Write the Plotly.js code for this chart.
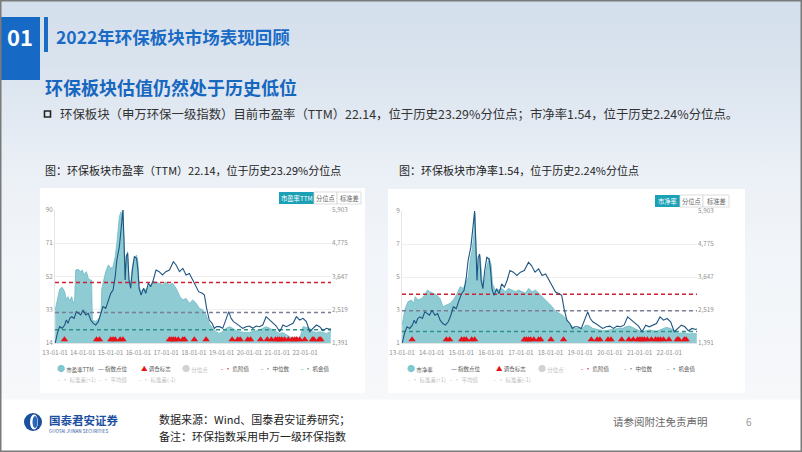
<!DOCTYPE html>
<html><head><meta charset="utf-8">
<script src="https://cdn.plot.ly/plotly-3.0.1.min.js"></script>
<style>
html,body{margin:0;padding:0;width:802px;height:452px;overflow:hidden;}
body{background:linear-gradient(180deg,#d3dfec 0px,#d9e3ee 60px,#e2e9f2 120px,#ebf0f6 170px,#f2f5f9 260px,#f6f8fa 399px,#ffffff 400px,#ffffff 452px);}
#chart{width:802px;height:452px;}
</style></head><body><div id="chart"></div>
<script>
// ---------------- DATA ----------------
const idxDates = ['2013-01-04','2013-02-01','2013-03-03','2013-04-06','2013-05-08','2013-05-30','2013-06-21','2013-07-13','2013-08-08','2013-09-09','2013-10-08','2013-11-03','2013-12-05','2014-01-05','2014-02-10','2014-03-15','2014-04-15','2014-05-18','2014-06-20','2014-07-24','2014-08-25','2014-09-24','2014-10-30','2014-12-03','2015-01-04','2015-02-03','2015-03-03','2015-03-25','2015-04-09','2015-04-27','2015-05-19','2015-06-13','2015-06-27','2015-07-12','2015-07-27','2015-08-14','2015-09-01','2015-09-23','2015-10-15','2015-11-10','2015-12-09','2015-12-27','2016-01-12','2016-02-06','2016-03-10','2016-04-08','2016-05-11','2016-06-13','2016-07-16','2016-08-21','2016-10-01','2016-11-14','2016-12-28','2017-02-13','2017-04-06','2017-05-12','2017-06-25','2017-08-08','2017-09-20','2017-11-02','2017-12-17','2018-01-30','2018-03-04','2018-04-19','2018-05-19','2018-06-17','2018-07-22','2018-08-28','2018-09-26','2018-10-27','2018-12-02','2019-01-15','2019-02-28','2019-04-04','2019-05-05','2019-06-05','2019-07-10','2019-08-22','2019-10-05','2019-11-18','2020-01-01','2020-02-14','2020-03-30','2020-05-11','2020-06-24','2020-08-07','2020-09-22','2020-11-03','2020-12-19','2021-02-01','2021-03-17','2021-04-30','2021-06-13','2021-07-27','2021-09-09','2021-10-22','2021-12-05','2022-01-18','2022-03-03','2022-04-16','2022-05-30','2022-07-12','2022-08-25','2022-10-08','2022-11-21','2022-12-05'];
const idxValues = [1391,1719,1945,1889,2002,2171,2058,2228,2284,2228,2454,2397,2341,2510,2341,2397,2171,2058,2002,2115,2341,2624,2567,2850,3076,3189,3641,4207,4433,4659,5224,5903,4885,3528,4320,4433,3528,3246,3867,4320,4263,3867,3246,3019,3246,3076,3415,3302,3528,3867,3811,3698,3811,3867,4150,4037,3811,3924,3698,3750,3528,3300,3132,3076,3019,2567,2171,2058,1889,1945,1945,1889,2171,2454,2228,2115,2058,1968,1889,1945,1968,1889,1968,1945,2002,2284,2171,2058,1968,1775,2002,1945,2002,2058,2284,2171,2228,2115,1775,1889,2002,1945,1809,1889,1855,1880];

const peDates = ['2013-01-04','2013-02-01','2013-03-03','2013-04-06','2013-05-08','2013-05-30','2013-06-21','2013-07-13','2013-08-08','2013-08-29','2013-09-16','2013-09-30','2013-11-03','2013-12-05','2013-12-27','2014-01-18','2014-02-17','2014-03-15','2014-04-09','2014-04-27','2014-05-07','2014-06-20','2014-08-03','2014-08-29','2014-09-08','2014-09-24','2014-10-30','2014-12-03','2015-01-04','2015-02-03','2015-03-03','2015-03-25','2015-04-09','2015-04-27','2015-05-19','2015-06-06','2015-06-13','2015-06-27','2015-07-12','2015-07-27','2015-08-14','2015-09-01','2015-09-23','2015-10-15','2015-11-10','2015-12-09','2015-12-27','2016-01-12','2016-02-06','2016-03-10','2016-04-08','2016-05-11','2016-06-13','2016-07-16','2016-08-21','2016-10-01','2016-11-14','2016-12-28','2017-02-13','2017-03-27','2017-05-12','2017-07-02','2017-08-08','2017-09-20','2017-11-02','2017-12-17','2018-01-30','2018-03-14','2018-04-27','2018-06-10','2018-07-22','2018-09-04','2018-10-18','2018-12-02','2019-01-15','2019-02-28','2019-04-13','2019-05-26','2019-07-10','2019-08-22','2019-10-05','2019-11-18','2020-01-01','2020-02-14','2020-03-30','2020-05-11','2020-06-24','2020-08-07','2020-09-22','2020-11-03','2020-12-19','2021-02-01','2021-03-17','2021-04-30','2021-06-13','2021-07-27','2021-09-09','2021-10-22','2021-12-05','2022-01-18','2022-03-03','2022-04-16','2022-05-30','2022-07-12','2022-08-25','2022-10-08','2022-11-21','2022-12-05'];
const peValues = [32.9,39.5,44.7,45.8,43.3,38.6,40.5,38.0,40.5,36.7,38.6,55.7,56.1,54.8,55.7,52.9,54.8,51.0,50.0,50.0,27.1,26.2,28.1,31.0,45.0,48.1,54.8,58.6,56.7,57.6,63.3,71.0,76.7,86.2,89.0,84.3,90.0,67.1,50.0,63.3,66.2,50.0,48.1,57.6,62.4,64.3,60.5,46.2,43.3,45.2,44.3,46.2,47.1,49.0,49.0,48.1,47.1,49.0,47.1,48.1,45.2,40.5,38.6,39.5,36.7,38.6,36.7,33.8,32.9,30.0,25.2,22.4,20.5,19.5,20.5,22.4,23.3,22.4,21.0,20.5,20.1,19.9,20.1,20.5,21.0,21.4,22.4,23.3,22.4,21.4,20.5,19.5,19.9,18.6,17.6,16.7,17.6,16.1,23.3,22.9,22.4,20.5,19.9,20.5,19.9,19.5,20.1,22.1];

const pbDates = ['2013-01-04','2013-02-03','2013-03-15','2013-04-27','2013-05-26','2013-06-13','2013-07-17','2013-08-29','2013-10-08','2013-11-10','2013-12-09','2014-01-18','2014-03-03','2014-04-12','2014-05-22','2014-07-01','2014-08-14','2014-09-23','2014-11-02','2014-12-16','2015-01-25','2015-02-23','2015-03-28','2015-04-22','2015-05-14','2015-06-05','2015-06-16','2015-07-04','2015-07-22','2015-08-07','2015-08-21','2015-09-16','2015-10-11','2015-11-09','2015-12-08','2016-01-03','2016-01-18','2016-02-20','2016-04-01','2016-05-15','2016-06-24','2016-08-03','2016-09-16','2016-10-26','2016-12-05','2017-01-18','2017-02-27','2017-04-08','2017-05-22','2017-07-01','2017-08-10','2017-09-23','2017-11-02','2017-12-12','2018-01-22','2018-03-07','2018-04-16','2018-05-26','2018-07-09','2018-08-18','2018-09-27','2018-11-06','2018-12-20','2019-01-30','2019-03-11','2019-04-24','2019-06-03','2019-07-13','2019-08-26','2019-10-05','2019-11-14','2019-12-24','2020-02-06','2020-03-18','2020-04-27','2020-06-10','2020-07-20','2020-08-29','2020-10-12','2020-11-21','2020-12-31','2021-02-13','2021-03-25','2021-05-04','2021-06-17','2021-07-27','2021-09-05','2021-10-19','2021-11-28','2022-01-08','2022-02-21','2022-04-01','2022-05-11','2022-06-20','2022-08-03','2022-09-12','2022-10-22','2022-12-05'];
const pbValues = [2.09,3.0,3.5,3.6,3.4,3.81,3.6,3.7,3.91,4.21,4.11,4.01,3.91,3.71,3.2,3.3,3.4,3.6,3.91,4.41,4.31,4.62,5.02,6.13,6.64,7.65,8.86,6.43,4.82,6.13,6.23,4.62,4.72,5.63,6.13,5.73,4.62,4.21,4.21,4.31,4.11,4.31,4.21,4.11,4.21,4.11,4.01,4.31,4.11,4.21,4.01,3.81,3.6,3.45,3.2,2.9,2.8,2.7,2.49,2.19,1.99,1.89,1.89,1.89,2.09,2.03,1.89,1.83,1.79,1.75,1.75,1.79,1.79,1.83,1.89,1.89,1.99,2.03,1.95,1.83,1.75,1.69,1.75,1.79,1.75,1.69,1.79,1.89,1.95,1.89,1.79,1.63,1.59,1.63,1.59,1.55,1.59,1.54];

const tradeDates = ['2013-05-05','2014-07-01','2014-08-10','2015-01-04','2015-02-03','2015-03-03','2015-05-08','2015-06-13','2017-02-13','2017-03-10','2017-04-05','2017-05-01','2017-06-10','2017-08-08','2017-09-02','2018-01-07','2018-06-10','2019-05-18','2019-07-30','2019-09-01','2019-12-10','2020-01-15','2020-05-26','2020-08-22','2020-10-15','2020-12-08','2021-01-05','2021-02-01','2021-03-01','2021-04-06','2021-05-26','2021-07-16','2021-08-15','2021-09-15','2021-10-22','2021-12-28','2022-04-08','2022-04-27','2022-07-05','2022-07-27'];

const levelNames = ['危险值','中位数','机会值'];
const peLevels = [48.6, 31.4, 21.6];
const pbLevels = [3.95, 2.95, 1.70];
const peTicks = [14, 33, 52, 71, 90];
const pbTicks = [1, 3, 5, 7, 9];
const idxTicks = [1391, 2519, 3647, 4775, 5903];
const yearTicks = ['13-01-01','14-01-01','15-01-01','16-01-01','17-01-01','18-01-01','19-01-01','20-01-01','21-01-01','22-01-01'];

// ---------------- STYLE / LAYOUT ----------------
const W = 802, H = 452;
const px = x => x / W, py = y => 1 - y / H;
const F = '"Noto Sans CJK SC","Noto Sans",sans-serif';
const xStart = '2013-01-01', xEnd = '2022-12-08';
const levelColors = ['#cc2233', '#7a7e96', '#2f9287'];
const areaFill = '#8ecbd3', areaLine = '#6ebbc5', idxColor = '#1f5582', triColor = '#e8111a';
const tickFont = {family: F, size: 6.3, color: '#909090'};
const yearVals = yearTicks.map(t => '20' + t);

function chartTraces(xa, yl, yr, dates, vals, levels, lo, hi) {
  const tr = [];
  tr.push({x: dates, y: vals, xaxis: xa, yaxis: yl, type: 'scatter', mode: 'lines', fill: 'tozeroy',
           fillcolor: areaFill, line: {color: areaLine, width: 0.8}, hoverinfo: 'skip'});
  levels.forEach((v, i) => tr.push({x: [xStart, xEnd], y: [v, v], xaxis: xa, yaxis: yl, type: 'scatter',
           mode: 'lines', name: levelNames[i], line: {color: levelColors[i], width: 1.5, dash: '4px,3px'}, hoverinfo: 'skip'}));
  const triY = lo + (hi - lo) * 0.026;
  tr.push({x: tradeDates, y: tradeDates.map(() => triY), xaxis: xa, yaxis: yl, type: 'scatter', mode: 'markers',
           marker: {symbol: 'triangle-up', size: 6.5, color: triColor}, cliponaxis: false, hoverinfo: 'skip'});
  tr.push({x: idxDates, y: idxValues, xaxis: xa, yaxis: yr, type: 'scatter', mode: 'lines',
           line: {color: idxColor, width: 1.1}, hoverinfo: 'skip'});
  return tr;
}

const data = [].concat(
  chartTraces('x', 'y', 'y2', peDates, peValues, peLevels, 14, 90),
  chartTraces('x2', 'y3', 'y4', pbDates, pbValues, pbLevels, 1, 9)
);

function xAx(d0, d1, anchor) {
  return {domain: [px(d0), px(d1)], anchor: anchor, type: 'date', range: [xStart, xEnd],
          tickmode: 'array', tickvals: yearVals, ticktext: yearTicks, tickfont: tickFont, tickangle: 0,
          ticklabelstandoff: 3,
          showgrid: false, zeroline: false, showline: true, linecolor: '#e4e4e4', linewidth: 1, ticks: '', fixedrange: true};
}
function yAxL(top, anchor, range, ticks) {
  return {domain: [py(343), py(top)], anchor: anchor, range: range, tickmode: 'array', tickvals: ticks,
          tickfont: tickFont, gridcolor: '#efefef', gridwidth: 1, zeroline: false, showline: true,
          linecolor: '#e4e4e4', ticks: '', fixedrange: true};
}
function yAxR(over, anchor) {
  return {overlaying: over, side: 'right', anchor: anchor, range: [1391, 5903], tickmode: 'array',
          tickvals: idxTicks, ticktext: idxTicks.map(v => v.toLocaleString('en-US')), tickfont: tickFont,
          showgrid: false, zeroline: false, showline: false, ticks: '', fixedrange: true};
}

const shapes = [];
const ann = [];
function rect(x0, y0, x1, y1, fill, line, lw) {
  shapes.push({type: 'rect', xref: 'paper', yref: 'paper', x0: px(x0), x1: px(x1), y0: py(y1), y1: py(y0),
               fillcolor: fill, line: {color: line || 'rgba(0,0,0,0)', width: lw || 0}, layer: 'below'});
}
function text(x, y, t, size, color, opts) {
  ann.push(Object.assign({xref: 'paper', yref: 'paper', x: px(x), y: py(y), text: t, showarrow: false,
          xanchor: 'left', yanchor: 'middle', font: {family: F, size: size, color: color}}, opts || {}));
}

// slide frame
shapes.push({type: 'rect', xref: 'paper', yref: 'paper', x0: px(0.75), x1: px(801.25), y0: py(451.25), y1: py(0.75),
             line: {color: '#7a7a7a', width: 1.5}, fillcolor: 'rgba(0,0,0,0)', layer: 'above'});
// header
rect(0, 17, 40, 80, '#1769c6');
rect(44, 17, 48, 52, '#1c6cc4');
text(20, 36, '01', 22, '#ffffff', {xanchor: 'center', font: {family: F, size: 22, color: '#ffffff', weight: 'bold'}});
text(54, 36, '2022年环保板块市场表现回顾', 17.5, '#1a6bc6', {font: {family: F, size: 17.5, color: '#1a6bc6', weight: 'bold'}});
text(43, 87, '环保板块估值仍然处于历史低位', 18, '#1767bf', {font: {family: F, size: 18, color: '#1767bf', weight: 'bold'}});
shapes.push({type: 'rect', xref: 'paper', yref: 'paper', x0: px(44.5), x1: px(50.5), y0: py(117), y1: py(111),
             line: {color: '#222', width: 1.6}, fillcolor: 'rgba(0,0,0,0)'});
text(58, 114, '环保板块（申万环保一级指数）目前市盈率（TTM）22.14，位于历史23.29%分位点；市净率1.54，位于历史2.24%分位点。', 12.4, '#333333');
text(43, 170, '图：环保板块市盈率（TTM）22.14，位于历史23.29%分位点', 11, '#222222');
text(397, 170, '图：环保板块市净率1.54，位于历史2.24%分位点', 11, '#222222');

// panels
rect(40, 188, 365, 393, '#ffffff');
rect(388, 189, 745, 393, '#ffffff');

// buttons
function buttons(y0, y1, first, xs) {
  rect(xs[0], y0, xs[1], y1, '#1ba0b6');
  rect(xs[1], y0, xs[2], y1, '#ffffff', '#d4d4d4', 0.8);
  rect(xs[2], y0, xs[3], y1, '#ffffff', '#d4d4d4', 0.8);
  const yc = (y0 + y1) / 2;
  text((xs[0] + xs[1]) / 2, yc, first, 6.3, '#ffffff', {xanchor: 'center'});
  text((xs[1] + xs[2]) / 2, yc, '分位点', 6.3, '#666666', {xanchor: 'center'});
  text((xs[2] + xs[3]) / 2, yc, '标准差', 6.3, '#666666', {xanchor: 'center'});
}
buttons(192, 204, '市盈率TTM', [279, 314, 337, 361]);
buttons(195, 207, '市净率', [655, 680, 703, 729]);

// legends
const sp = (c, s, fs) => '<span style="color:' + c + ';font-size:' + fs + 'px">' + s + '</span>';
function legend(xs1, xs2, first) {
  const on = '#555555', off = '#bdbdbd';
  const row1 = [
    [sp('#7fc8d0', '●', 8), first, on],
    [sp(idxColor, '—', 6.5), '指数点位', on],
    [sp(triColor, '▲', 6.5), '调仓标志', on],
    [sp('#d2d2d2', '●', 8), '分位点', off],
    [sp(levelColors[0], '- ·', 6.5), levelNames[0], on],
    [sp(levelColors[1], '- ·', 6.5), levelNames[1], on],
    [sp(levelColors[2], '- ·', 6.5), levelNames[2], on]
  ];
  row1.forEach((it, i) => text(xs1[i], 368, it[0] + ' ' + sp(it[2], it[1], 5.5), 5.5, it[2]));
  const row2 = ['标准差(+1)', '平均值', '标准差(-1)'];
  row2.forEach((t, i) => text(xs2[i], 379, sp('#cccccc', '- ·', 6.5) + ' ' + t, 5.5, off));
}
legend([55, 96, 139, 180, 219, 259, 299], [56, 97, 137], '市盈率TTM');
legend([405, 449, 494, 536, 579, 622, 665], [406, 448, 492], '市净率');

// footer
shapes.push({type: 'circle', xref: 'paper', yref: 'paper', x0: px(24), x1: px(42), y0: py(431), y1: py(413),
             fillcolor: '#1d4fa0', line: {width: 0}});
shapes.push({type: 'circle', xref: 'paper', yref: 'paper', x0: px(30), x1: px(38), y0: py(429.5), y1: py(414.5),
             fillcolor: '#ffffff', line: {width: 0}});
shapes.push({type: 'circle', xref: 'paper', yref: 'paper', x0: px(32.5), x1: px(37.5), y0: py(428), y1: py(416),
             fillcolor: '#2a66b8', line: {width: 0}});
text(47, 420, '国泰君安证券', 11.5, '#1d4fa0', {font: {family: F, size: 11.5, color: '#1d4fa0', weight: 'bold'}});
text(47, 430.5, 'GUOTAI JUNAN SECURITIES', 4.6, '#1d4fa0');
text(157, 419, '数据来源：Wind、国泰君安证券研究；', 11, '#222222');
text(157, 436, '备注：环保指数采用申万一级环保指数', 11, '#222222');
text(611, 421, '请参阅附注免责声明', 10.5, '#666666');
text(744, 421, '6', 10, '#999999');

const layout = {
  width: W, height: H, margin: {l: 0, r: 0, t: 0, b: 0},
  paper_bgcolor: 'rgba(0,0,0,0)', plot_bgcolor: 'rgba(0,0,0,0)',
  showlegend: false, hovermode: false, font: {family: F},
  xaxis: xAx(55, 331, 'y'),
  yaxis: yAxL(210, 'x', [14, 90], peTicks),
  yaxis2: yAxR('y', 'x'),
  xaxis2: xAx(402, 697, 'y3'),
  yaxis3: yAxL(211, 'x2', [1, 9], pbTicks),
  yaxis4: yAxR('y3', 'x2'),
  shapes: shapes, annotations: ann
};
Plotly.newPlot('chart', data, layout, {staticPlot: true, displayModeBar: false});
</script></body></html>
